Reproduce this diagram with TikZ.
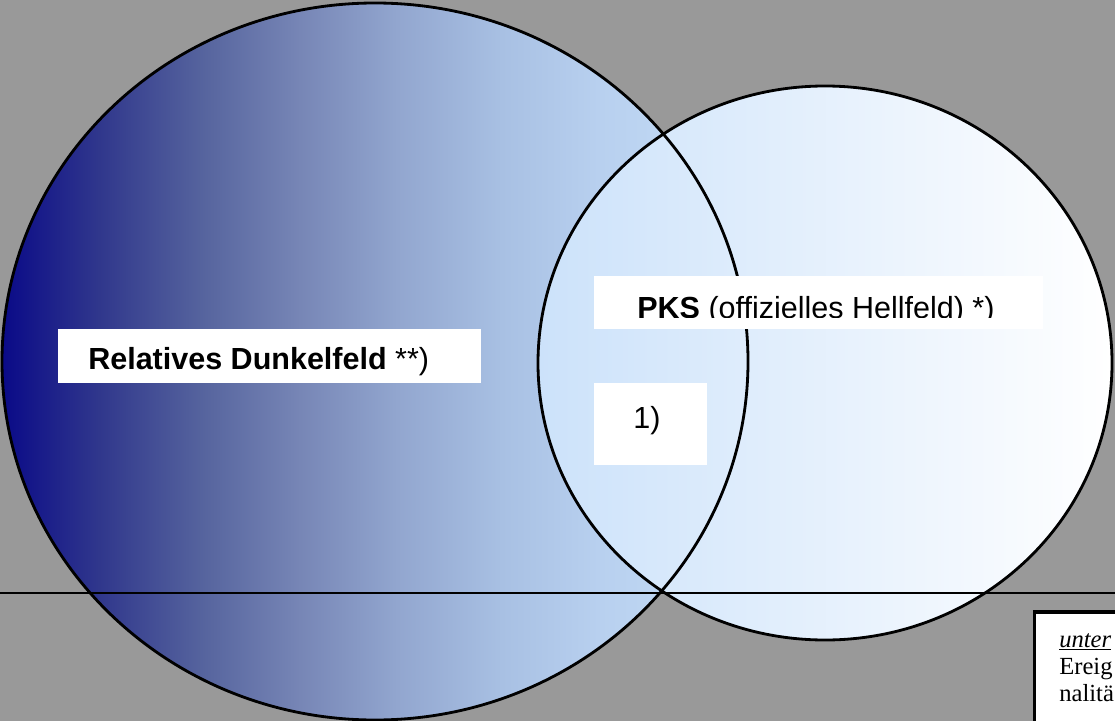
\documentclass[tikz,border=0pt]{standalone}
\usepackage{fontspec}
\setmainfont{Liberation Sans}
\newfontfamily\notefont{Liberation Serif}
\usepackage{xcolor}
\usepackage{tikz}
\usetikzlibrary{shapes,calc,positioning}

\definecolor{bggray}{HTML}{999999}
\definecolor{brightfield}{HTML}{CCE2FA}
\definecolor{fa}{HTML}{0A0A88}
\definecolor{fb}{HTML}{30378C}
\definecolor{fc}{HTML}{56649E}
\definecolor{fd}{HTML}{7786B6}
\definecolor{fe}{HTML}{92A6CF}
\definecolor{ff}{HTML}{A8C0E3}
\definecolor{fg}{HTML}{B8D0EF}
\definecolor{fh}{HTML}{C6DEF7}
\pgfdeclarehorizontalshading{darkfield}{100bp}{color(0bp)=(fa); color(25bp)=(fa);
  color(31.5bp)=(fb); color(38.5bp)=(fc); color(45bp)=(fd); color(51.5bp)=(fe);
  color(58.5bp)=(ff); color(65bp)=(fg); color(75bp)=(fh); color(100bp)=(fh)}

\begin{document}
\begin{tikzpicture}[x=0.025cm,y=-0.025cm]
  \tikzset{ lbl/.style={inner sep=0pt,font=\fontsize{21.7}{26}\selectfont},
            note/.style={inner sep=0pt,font=\notefont\fontsize{17.5}{20}\selectfont},
            rim/.style={black,line width=2pt},
  }
  \clip (0,0) rectangle (1115,721);
  \fill[bggray] (0,0) rectangle (1115,721);

  % the two fields
  \shade[shading=darkfield] (375,361.5) ellipse [x radius=373,y radius=358.5];
  \shade[left color=brightfield,right color=white]
    (825,363) ellipse [x radius=287,y radius=277];
  \draw[rim] (375,361.5) ellipse [x radius=373,y radius=358.5];
  \draw[rim] (825,363) ellipse [x radius=287,y radius=277];

  \coordinate (L) at (0,593);
  \coordinate (R) at (1115,593);
  \draw[black,line width=1.6pt] (L) -- (R);

  % label boxes
  \fill[white] (58,329) rectangle (481,383);
  \node[lbl,anchor=base west] (dunkel) at (88,369) {\textbf{Relatives Dunkelfeld} **)};

  \fill[white] (594,276) rectangle (1043,329);
  \begin{scope}
    \clip (594,276) rectangle (1043,317);
    \node[lbl,anchor=base west] (pks) at (637,318) {\textbf{PKS} (offizielles Hellfeld) *)};
  \end{scope}

  \fill[white] (594,383) rectangle (707,465);
  \node[lbl,anchor=base west] (eins) at (633,428) {1)};

  % note box, cut at the border
  \filldraw[fill=white,draw=black,line width=2.2pt] (1034.5,612) rectangle (1140,740);
  \node[note,anchor=base west] (n1) at (1059,647) {\underline{\textit{unter}}};
  \node[note,anchor=base west] (n2) at (1059,674) {Ereig};
  \node[note,anchor=base west] (n3) at (1059,701) {nalitä};
\end{tikzpicture}
\end{document}
